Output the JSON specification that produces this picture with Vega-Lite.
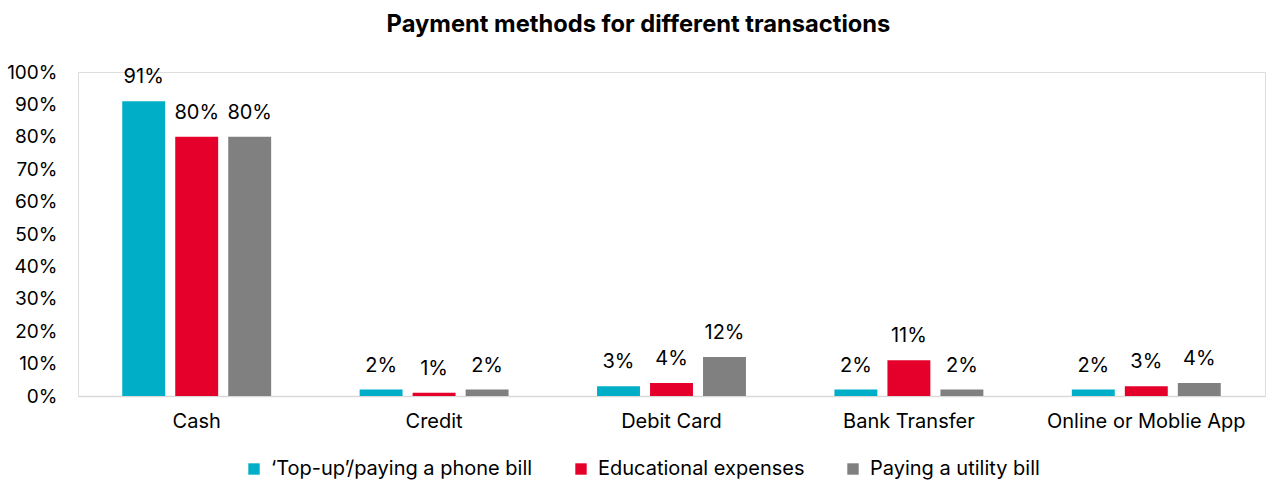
{
  "$schema": "https://vega.github.io/schema/vega-lite/v6.json",
  "autosize": "none",
  "width": 1187,
  "height": 324,
  "padding": {"left": 78, "top": 72, "right": 15, "bottom": 102},
  "background": "white",
  "title": {
    "text": "Payment methods for different transactions",
    "font": "Inter",
    "fontSize": 23.7,
    "fontWeight": "bold",
    "color": "#000000",
    "anchor": "middle",
    "dx": -33,
    "offset": 26
  },
  "data": {
    "values": [
      {"method": "Cash", "series": "‘Top-up’/paying a phone bill", "value": 0.91},
      {"method": "Cash", "series": "Educational expenses", "value": 0.80},
      {"method": "Cash", "series": "Paying a utility bill", "value": 0.80},
      {"method": "Credit", "series": "‘Top-up’/paying a phone bill", "value": 0.02},
      {"method": "Credit", "series": "Educational expenses", "value": 0.01},
      {"method": "Credit", "series": "Paying a utility bill", "value": 0.02},
      {"method": "Debit Card", "series": "‘Top-up’/paying a phone bill", "value": 0.03},
      {"method": "Debit Card", "series": "Educational expenses", "value": 0.04},
      {"method": "Debit Card", "series": "Paying a utility bill", "value": 0.12},
      {"method": "Bank Transfer", "series": "‘Top-up’/paying a phone bill", "value": 0.02},
      {"method": "Bank Transfer", "series": "Educational expenses", "value": 0.11},
      {"method": "Bank Transfer", "series": "Paying a utility bill", "value": 0.02},
      {"method": "Online or Moblie App", "series": "‘Top-up’/paying a phone bill", "value": 0.02},
      {"method": "Online or Moblie App", "series": "Educational expenses", "value": 0.03},
      {"method": "Online or Moblie App", "series": "Paying a utility bill", "value": 0.04}
    ]
  },
  "encoding": {
    "x": {
      "field": "method",
      "type": "nominal",
      "sort": ["Cash", "Credit", "Debit Card", "Bank Transfer", "Online or Moblie App"],
      "scale": {"paddingInner": 0, "paddingOuter": 0},
      "axis": {
        "title": null,
        "labelAngle": 0,
        "labelFont": "Inter",
        "labelFontSize": 20,
        "labelColor": "#000000",
        "labelPadding": 15,
        "labelLimit": 0,
        "ticks": false,
        "domainColor": "#d9d9d9",
        "domainWidth": 1.5
      }
    },
    "xOffset": {
      "field": "series",
      "type": "nominal",
      "sort": ["‘Top-up’/paying a phone bill", "Educational expenses", "Paying a utility bill"],
      "scale": {"paddingInner": 0.19, "paddingOuter": 0.835}
    },
    "y": {
      "field": "value",
      "type": "quantitative",
      "scale": {"domain": [0, 1]},
      "axis": {
        "title": null,
        "format": ".0%",
        "values": [0, 0.1, 0.2, 0.3, 0.4, 0.5, 0.6, 0.7, 0.8, 0.9, 1],
        "grid": false,
        "domain": false,
        "ticks": false,
        "labelFont": "Inter",
        "labelFontSize": 19,
        "labelColor": "#000000",
        "labelPadding": 21
      }
    }
  },
  "layer": [
    {
      "mark": {"type": "bar"},
      "encoding": {
        "color": {
          "field": "series",
          "type": "nominal",
          "scale": {
            "domain": ["‘Top-up’/paying a phone bill", "Educational expenses", "Paying a utility bill"],
            "range": ["#00AEC7", "#E4002B", "#808080"]
          },
          "legend": {
            "title": null,
            "orient": "none",
            "direction": "horizontal",
            "legendX": 166,
            "legendY": 387,
            "symbolType": "square",
            "symbolSize": 130,
            "symbolStrokeWidth": 0,
            "labelFont": "Inter",
            "labelFontSize": 20,
            "labelColor": "#000000",
            "labelLimit": 0,
            "columnPadding": 38,
            "labelOffset": 7
          }
        }
      }
    },
    {
      "mark": {"type": "text", "baseline": "middle", "dy": -24, "font": "Inter", "fontSize": 20, "color": "#000000"},
      "encoding": {
        "text": {"field": "value", "type": "quantitative", "format": ".0%"}
      }
    }
  ]
}
